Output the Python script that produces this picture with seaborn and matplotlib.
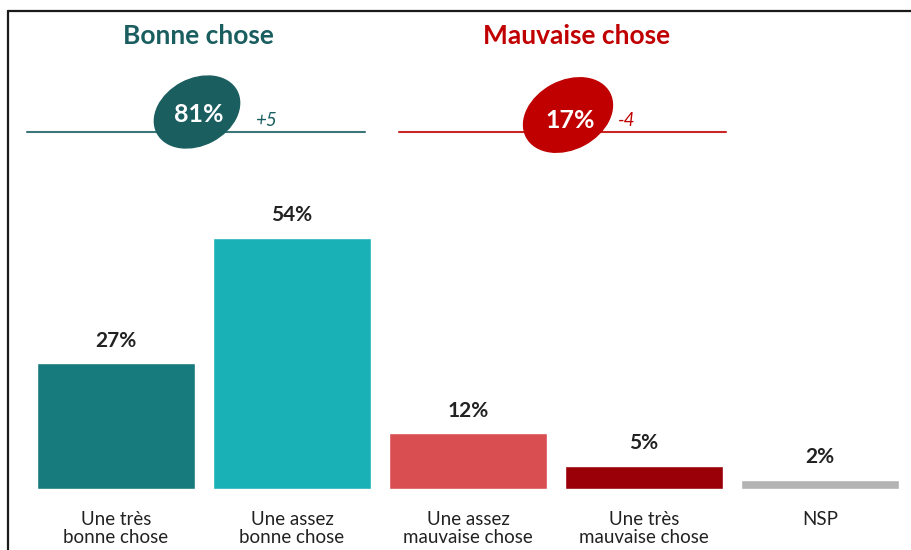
import matplotlib
matplotlib.use('Agg')
import matplotlib.pyplot as plt
from matplotlib.patches import Ellipse
import seaborn as sns

# données
categories = ['Une très\nbonne chose', 'Une assez\nbonne chose', 'Une assez\nmauvaise chose',
              'Une très\nmauvaise chose', 'NSP']
valeurs = [27, 54, 12, 5, 2]
couleurs = ['#177B7D', '#1AB1B6', '#D84E51', '#990008', '#B3B3B3']
etiquettes = ['27%', '54%', '12%', '5%', '2%']

groupes = ['Bonne chose', 'Mauvaise chose']
totaux = ['81%', '17%']
evolutions = ['+5', '-4']
couleurs_groupes = ['#1A5E60', '#C00000']

sns.set_theme(style='white')
plt.rcParams['font.family'] = ['Lato', 'DejaVu Sans']

W, H = 911, 550
fig = plt.figure(figsize=(W / 100, H / 100), dpi=100)
fig.patch.set_facecolor('white')

# axe des barres : la base est à 489 px du haut, 4.65 px par point
px_par_pct = 4.65
base = 489
ax = fig.add_axes([0, (H - base) / H, 1, base / H])

sns.barplot(x=categories, y=valeurs, hue=categories, palette=couleurs,
            legend=False, width=0.9, saturation=1, ax=ax)
x0, pas = 116, 176
ax.set_xlim(-x0 / pas, (W - x0) / pas)
ax.set_ylim(0, base / px_par_pct)
for cont, lab in zip(ax.containers, etiquettes):
    ax.bar_label(cont, labels=[lab], padding=9, fontsize=15, fontweight='bold', color='#222222')

ax.tick_params(axis='x', length=0, pad=16, labelsize=13.5, labelcolor='#222222')
ax.tick_params(axis='y', left=False, labelleft=False)
for lbl in ax.get_xticklabels():
    lbl.set_linespacing(1.08)
ax.set_ylabel('')
ax.set_xlabel('')
for s in ax.spines.values():
    s.set_visible(False)
ax.patch.set_alpha(0)

# axe de décor en pixels (y vers le haut)
deco = fig.add_axes([0, 0, 1, 1])
deco.set_xlim(0, W)
deco.set_ylim(0, H)
deco.axis('off')
deco.patch.set_alpha(0)

def py(y):
    return H - y

# cadre haut et gauche
deco.plot([8, 8], [py(11), py(H)], color='#1a1a1a', lw=1.6)
deco.plot([8, W], [py(11), py(11)], color='#1a1a1a', lw=1.6)

titre_x = [198, 577]
ligne_x = [(27, 365), (399, 726)]
ellipse_c = [(197, 112), (568, 115)]
ellipse_wh = [(90, 66), (94, 68)]
texte_c = [(199, 115), (570, 120)]
evol_x = [266, 627]

for i in range(2):
    c = couleurs_groupes[i]
    deco.text(titre_x[i], py(36), groupes[i], ha='center', va='center',
              fontsize=19, fontweight='bold', color=c)
    deco.plot(ligne_x[i], [py(131.5), py(131.5)], color=c, lw=1.5, alpha=0.85)
    cx, cy = ellipse_c[i]
    w, h = ellipse_wh[i]
    deco.add_patch(Ellipse((cx, py(cy)), w, h, angle=28, color=c, zorder=3))
    tx, ty = texte_c[i]
    deco.text(tx, py(ty), totaux[i], ha='center', va='center', fontsize=18,
              fontweight='bold', color='white', zorder=4)
    deco.text(evol_x[i], py(121), evolutions[i], ha='center', va='center',
              fontsize=13.5, fontstyle='italic', color=c)

fig.savefig('out.png', dpi=100, facecolor='white')
